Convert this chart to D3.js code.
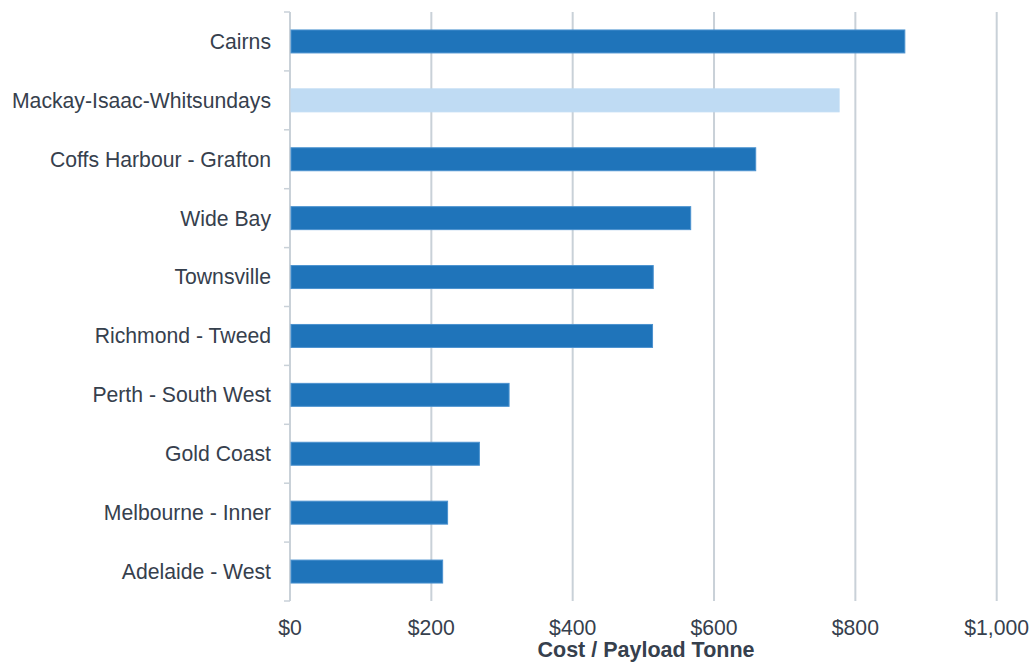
<!DOCTYPE html>
<html>
<head>
<meta charset="utf-8">
<script src="https://cdn.jsdelivr.net/npm/d3@7"></script>
<style>
  body { margin: 0; background: #fff; }
  text { font-family: "Liberation Sans", Arial, sans-serif; }
</style>
</head>
<body>
<div id="chart"></div>
<script>
const WIDTH = 1035, HEIGHT = 666;
const regions = ["Cairns", "Mackay-Isaac-Whitsundays", "Coffs Harbour - Grafton", "Wide Bay", "Townsville",
    "Richmond - Tweed", "Perth - South West", "Gold Coast", "Melbourne - Inner", "Adelaide - West"];
const costs = [870, 777, 659, 567, 514, 513, 310, 268, 223, 216];
const highlight = ["Mackay-Isaac-Whitsundays"];
const xTicks = [0, 200, 400, 600, 800, 1000];
const xTitle = "Cost / Payload Tonne";

const margin = { top: 12, right: 38, bottom: 65, left: 290 };
const TEXT = "#36404d", GRID = "#c9d1d8";
const FS = 21.2;

const svg = d3.select("#chart").append("svg")
    .attr("width", WIDTH)
    .attr("height", HEIGHT);

const x = d3.scaleLinear().domain([0, 1000]).range([margin.left, 996.7]);
const y = d3.scaleBand().domain(regions).range([margin.top, HEIGHT - margin.bottom]).paddingInner(0.61).paddingOuter(0.305);

// gridlines
svg.append("g").selectAll("line").data(xTicks.slice(1)).enter().append("line")
    .attr("x1", d => x(d)).attr("x2", d => x(d))
    .attr("y1", margin.top).attr("y2", HEIGHT - margin.bottom)
    .attr("stroke", GRID).attr("stroke-width", 2);

// left axis line + ticks at band boundaries
const step = y.step();
const bounds = d3.range(regions.length + 1).map(i => margin.top + i * step);
svg.append("line")
    .attr("x1", x(0)).attr("x2", x(0))
    .attr("y1", margin.top).attr("y2", HEIGHT - margin.bottom)
    .attr("stroke", GRID).attr("stroke-width", 2);
svg.append("g").selectAll("line").data(bounds).enter().append("line")
    .attr("x1", x(0) - 6).attr("x2", x(0))
    .attr("y1", d => d).attr("y2", d => d)
    .attr("stroke", GRID).attr("stroke-width", 1.5);

// bars
svg.append("g").selectAll("rect").data(regions).enter().append("rect")
    .attr("x", x(0) + 1)
    .attr("y", d => y(d))
    .attr("width", (d, i) => x(costs[i]) - x(0) - 1)
    .attr("height", y.bandwidth())
    .attr("fill", d => highlight.includes(d) ? "#bfdbf3" : "#1f74ba")
    .attr("stroke", d => highlight.includes(d) ? "#bfdbf3" : "#4b92cf")
    .attr("stroke-width", 1);

// category labels
svg.append("g").selectAll("text").data(regions).enter().append("text")
    .attr("x", x(0) - 19)
    .attr("y", d => y(d) + y.bandwidth() / 2)
    .attr("dy", "0.35em")
    .attr("text-anchor", "end")
    .attr("font-size", FS)
    .attr("fill", TEXT)
    .text(d => d);

// x tick labels
svg.append("g").selectAll("text").data(xTicks).enter().append("text")
    .attr("x", d => x(d))
    .attr("y", 635)
    .attr("text-anchor", "middle")
    .attr("font-size", FS)
    .attr("fill", TEXT)
    .text(d => "$" + d3.format(",")(d));

svg.append("text")
    .attr("x", 646).attr("y", 657)
    .attr("text-anchor", "middle")
    .attr("font-size", 21.5)
    .attr("font-weight", "bold")
    .attr("fill", TEXT)
    .text(xTitle);
</script>
</body>
</html>
